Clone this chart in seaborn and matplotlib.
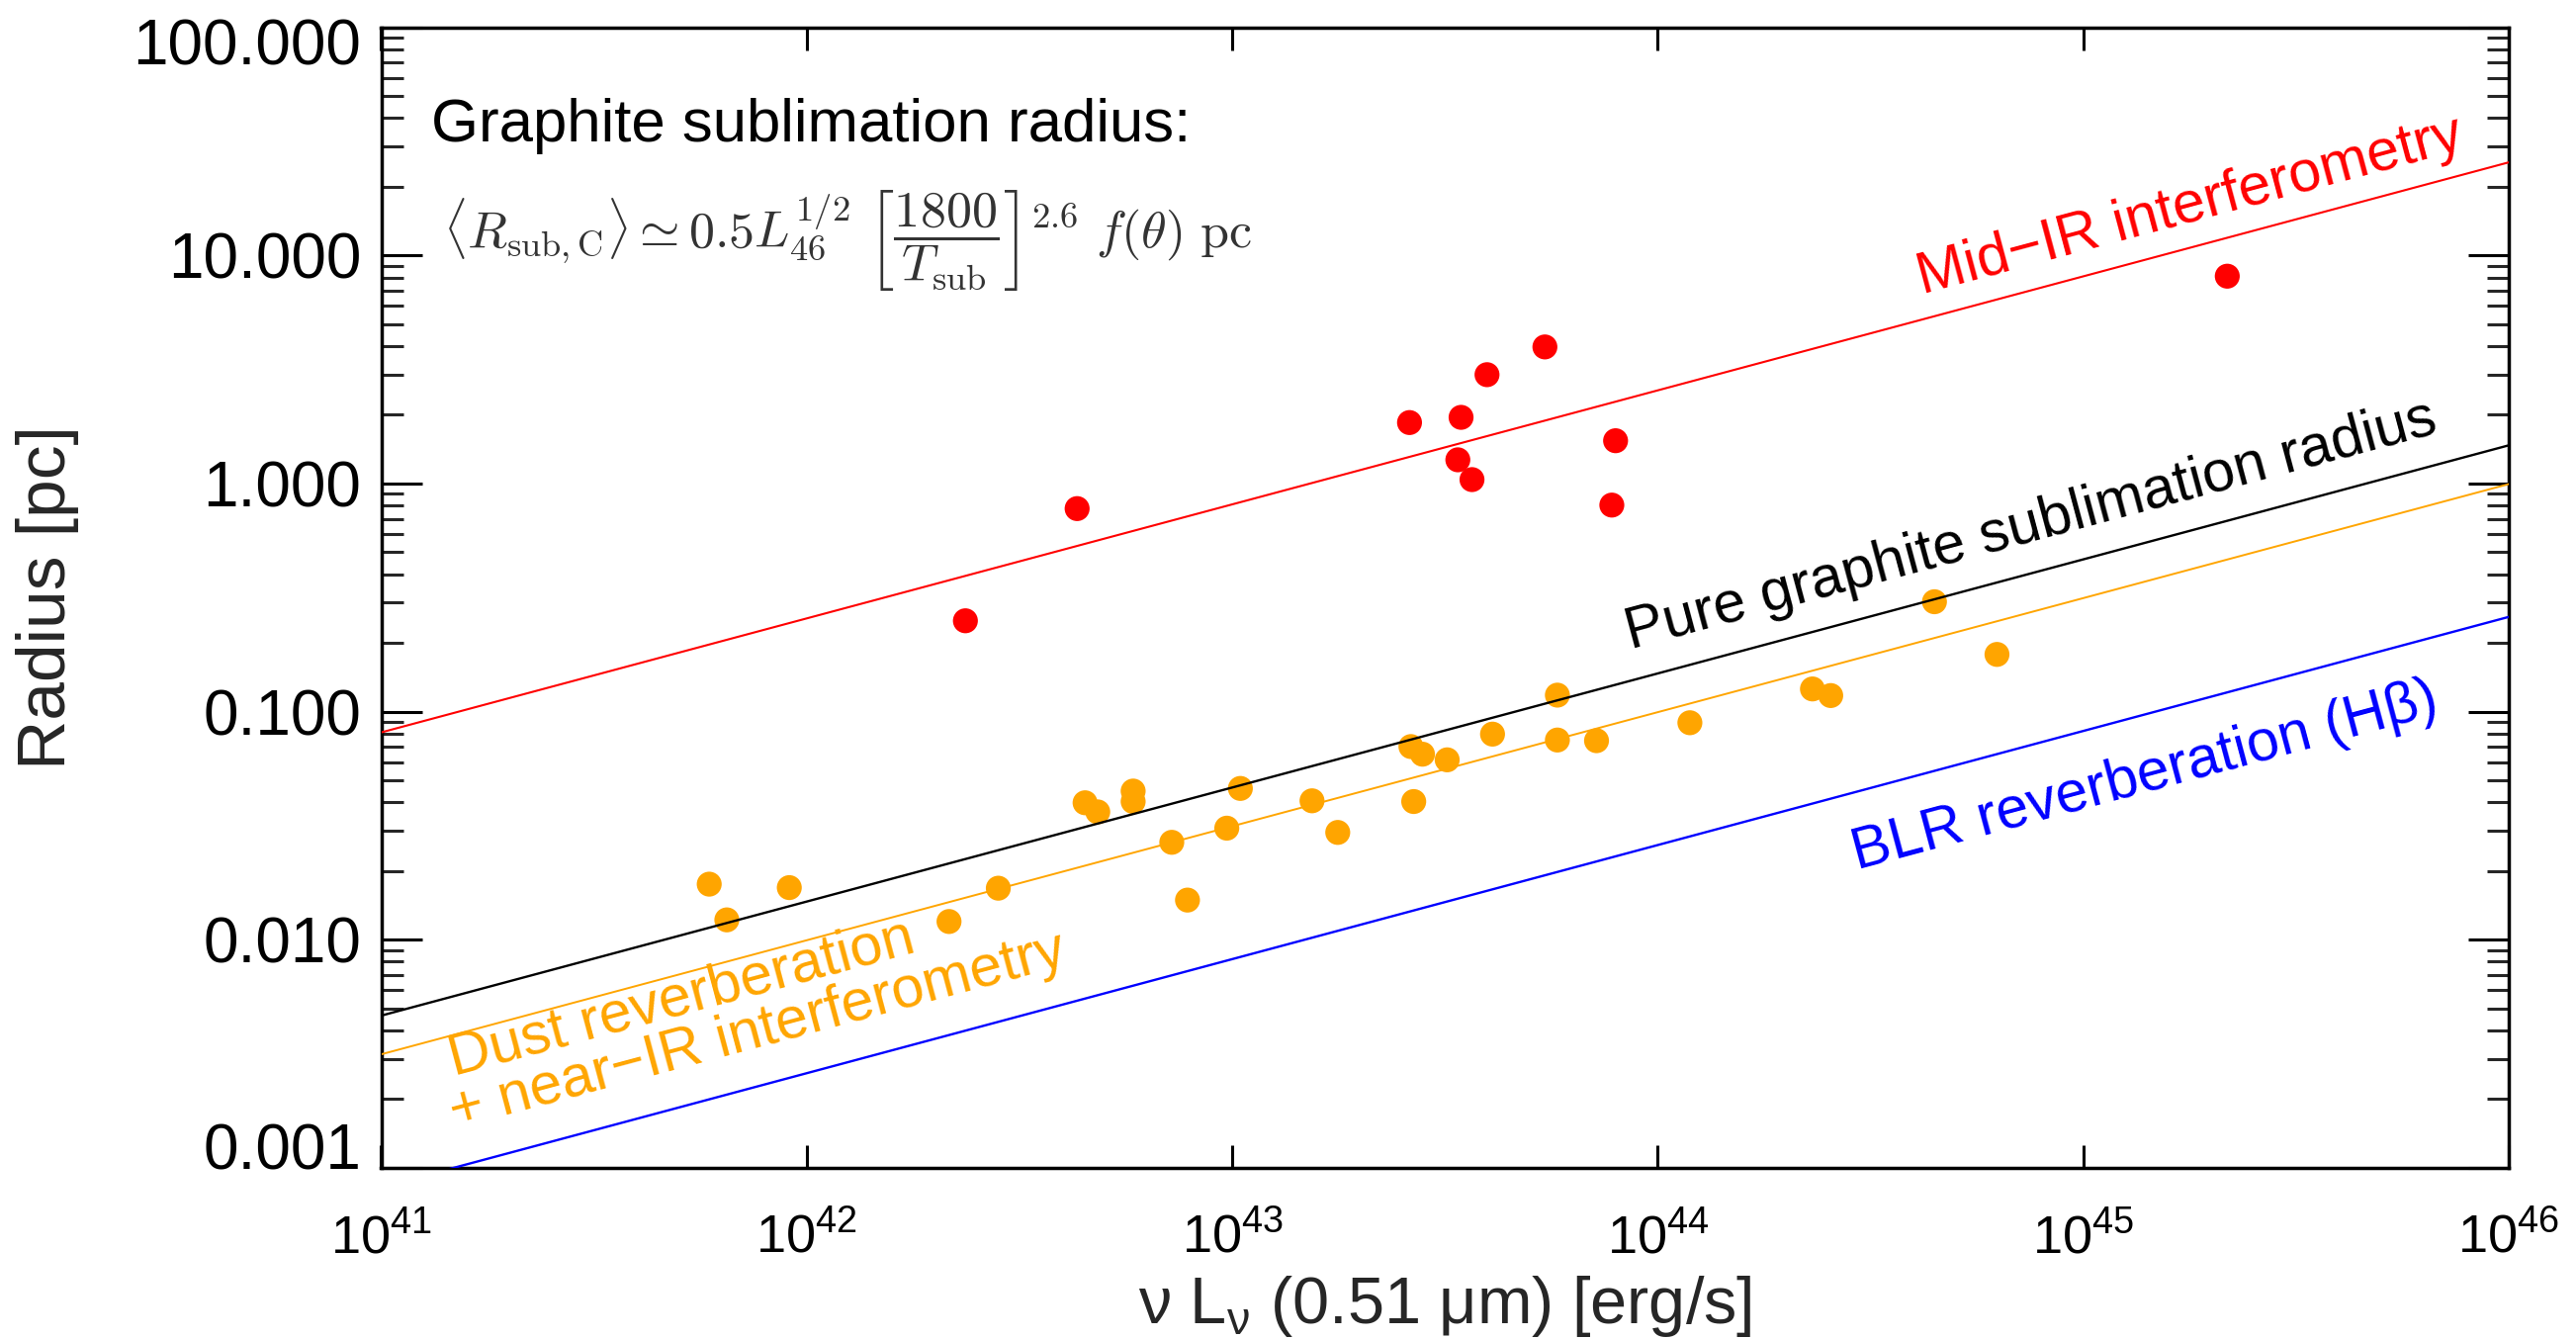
import numpy as np
import pandas as pd
import matplotlib
matplotlib.use("Agg")
import matplotlib.pyplot as plt
import seaborn as sns
from matplotlib.ticker import FixedLocator, FixedFormatter, NullLocator, LogLocator
from matplotlib.transforms import ScaledTranslation

# ---------------- data ----------------
midir_L = [2.36e42, 4.32e42, 2.61e43, 3.45e43, 3.39e43, 3.66e43, 3.97e43,
           5.43e43, 7.96e43, 7.80e43, 2.18e45]
midir_R = [0.250, 0.776, 1.85, 1.95, 1.27, 1.04, 3.00, 3.97, 1.54, 0.804, 8.11]

dust_L = [5.90e41, 6.49e41, 9.10e41, 2.16e42, 2.82e42, 4.51e42, 4.83e42,
          5.85e42, 5.85e42, 7.21e42, 7.85e42, 9.71e42, 1.045e43, 1.54e43,
          1.77e43, 2.67e43, 2.63e43, 2.80e43, 3.20e43, 4.09e43, 5.81e43,
          5.81e43, 7.18e43, 1.19e44, 2.31e44, 2.55e44, 4.47e44, 6.27e44]
dust_R = [0.0175, 0.0122, 0.0169, 0.0120, 0.0168, 0.0398, 0.0363,
          0.0448, 0.0403, 0.0267, 0.0149, 0.0308, 0.0460, 0.0406,
          0.0295, 0.0403, 0.0702, 0.0650, 0.0614, 0.0796, 0.118,
          0.0750, 0.0745, 0.0893, 0.1256, 0.1175, 0.303, 0.178]

line_L = [1e41, 1e46]
midir_line = [0.081, 25.6]
graphite_line = [0.00464, 1.47]
dust_line = [0.00314, 0.994]
blr_line = [0.00082, 0.26]

x_ticks = [1e41, 1e42, 1e43, 1e44, 1e45, 1e46]
x_tick_labels = [r"$\mathregular{10^{41}}$", r"$\mathregular{10^{42}}$",
                 r"$\mathregular{10^{43}}$", r"$\mathregular{10^{44}}$",
                 r"$\mathregular{10^{45}}$", r"$\mathregular{10^{46}}$"]
y_ticks = [1e-3, 1e-2, 1e-1, 1e0, 1e1, 1e2]
y_tick_labels = ["0.001", "0.010", "0.100", "1.000", "10.000", "100.000"]

# ---------------- style ----------------
sns.set_style("ticks")
plt.rcParams["font.family"] = ["Liberation Sans", "DejaVu Sans"]
plt.rcParams["mathtext.default"] = "it"

W, H = 2605, 1354
fig = plt.figure(figsize=(W / 100, H / 100), dpi=100)
ax = fig.add_axes([385.5 / W, 1 - 1180.7 / H, (2537 - 385.5) / W, (1180.7 - 27.7) / H])

def fp(x, y):
    return (x / W, 1 - y / H)

# ---------------- marks ----------------
sns.scatterplot(x=midir_L, y=midir_R, ax=ax, color="#ff0000", s=330,
                edgecolor="none", linewidth=0, zorder=2)
sns.scatterplot(x=dust_L, y=dust_R, ax=ax, color="#ffa500", s=330,
                edgecolor="none", linewidth=0, zorder=2)

sns.lineplot(x=line_L, y=midir_line, ax=ax, color="#ff0000", lw=1.5, zorder=3)
sns.lineplot(x=line_L, y=graphite_line, ax=ax, color="black", lw=1.7, zorder=3)
sns.lineplot(x=line_L, y=dust_line, ax=ax, color="#ffa500", lw=1.4, zorder=3)
sns.lineplot(x=line_L, y=blr_line, ax=ax, color="#0000ff", lw=1.7, zorder=3)

ax.set_xscale("log")
ax.set_yscale("log")
ax.set_xlim(1e41, 1e46)
ax.set_ylim(1e-3, 1e2)

# ---------------- axes ----------------
for sp in ax.spines.values():
    sp.set_visible(True)
    sp.set_linewidth(2.5)
    sp.set_color("black")

ax.xaxis.set_major_locator(FixedLocator(x_ticks))
ax.xaxis.set_major_formatter(FixedFormatter(x_tick_labels))
ax.xaxis.set_minor_locator(NullLocator())
ax.yaxis.set_major_locator(FixedLocator(y_ticks))
ax.yaxis.set_major_formatter(FixedFormatter(y_tick_labels))
ax.yaxis.set_minor_locator(LogLocator(base=10, subs=np.arange(2, 10)))

ax.tick_params(axis="x", which="major", direction="in", length=16.5, width=2.2,
               top=True, bottom=True, labelsize=39, pad=33, colors="black")
ax.tick_params(axis="y", which="major", direction="in", length=29.5, width=2.2,
               left=True, right=True, labelsize=46, pad=14.5, colors="black")
ax.tick_params(axis="y", which="minor", direction="in", length=15.8, width=2.2,
               left=True, right=True)

ax.set_xlabel(r"ν L$_\mathregular{ν}$ (0.51 μm) [erg/s]", fontsize=48)
ax.xaxis.set_label_coords(0.5, -0.093)
ax.set_ylabel("Radius [pc]", fontsize=50)
ax.yaxis.set_label_coords(-0.142, 0.5)

# ---------------- annotations ----------------
fig.text(*fp(436, 143), "Graphite sublimation radius:", fontsize=44.5,
         color="black", ha="left", va="baseline")
fig.text(*fp(448, 243),
         r"$\langle R_{\mathrm{sub,C}}\rangle \simeq \mathrm{0.5}L_{\mathrm{46}}^{\mathrm{1/2}}\ "
         r"\left[\dfrac{\mathrm{1800}}{T_{\mathrm{sub}}}\right]^{\mathrm{2.6}}\ f(\theta)\ \mathrm{pc}$",
         fontsize=37.5, color="#333333", ha="left", va="center", math_fontfamily="cm")

rot = 15
kw = dict(rotation=rot, rotation_mode="anchor", ha="left", va="baseline", fontsize=42.5)
fig.text(*fp(1944, 297), "Mid\u2212IR interferometry", color="#ff0000", **kw)
fig.text(*fp(1649, 656), "Pure graphite sublimation radius", color="black", **kw)
fig.text(*fp(459, 1088), "Dust reverberation", color="#ffa500", **kw)
fig.text(*fp(460, 1141), "+ near\u2212IR interferometry", color="#ffa500", **kw)
fig.text(*fp(1878, 879), "BLR reverberation (Hβ)", color="#0000ff", **kw)

# shift the end y labels inward as in the reference
yt = ax.yaxis.get_major_ticks()
yt[0].label1.set_transform(yt[0].label1.get_transform() +
                           ScaledTranslation(0, 0.22, fig.dpi_scale_trans))
yt[-1].label1.set_transform(yt[-1].label1.get_transform() +
                            ScaledTranslation(0, -0.14, fig.dpi_scale_trans))

fig.savefig("out.png", dpi=100)
